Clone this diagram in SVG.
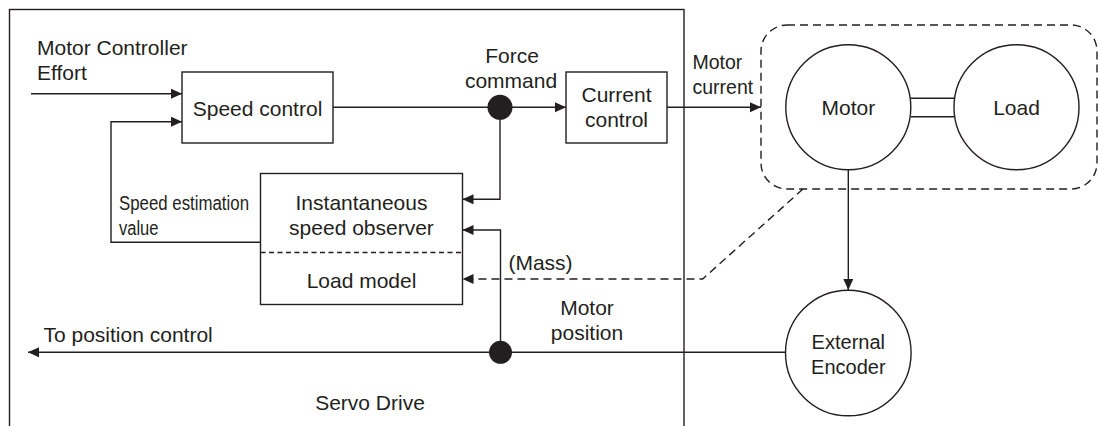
<svg xmlns="http://www.w3.org/2000/svg" width="1098" height="426" viewBox="0 0 1098 426">
<defs>
<style>
.ln{fill:none;stroke:#231f20;stroke-width:1.4}
.dash{fill:none;stroke:#231f20;stroke-width:1.4;stroke-dasharray:8 5}
.box{fill:#fff;stroke:#231f20;stroke-width:1.4}
.t{font-family:"Liberation Sans",Arial,Helvetica,sans-serif;font-size:21px;fill:#231f20}
.c{text-anchor:middle}
.s{font-size:19.5px}
.n{font-size:20px}
</style>
<marker id="ah" markerUnits="userSpaceOnUse" markerWidth="12" markerHeight="11" refX="11" refY="5" orient="auto">
<path d="M0,0 L11,5 L0,10 z" fill="#231f20"/>
</marker>
</defs>
<rect width="1098" height="426" fill="#fff"/>

<g id="servo-drive">
<rect x="9.5" y="9.5" width="674.5" height="440" class="ln"/>
<text class="t c" x="370" y="410">Servo Drive</text>
</g>

<g id="plant-group">
<rect x="761" y="25" width="336" height="164" rx="26" ry="26" class="dash" stroke-dasharray="9 6"/>
</g>

<g id="speed-control">
<rect x="182" y="72" width="151" height="71" class="box"/>
<text class="t c" x="257.5" y="115.5">Speed control</text>
</g>

<g id="current-control">
<rect x="566" y="72" width="101" height="71" class="box"/>
<text class="t c" x="616.5" y="102">Current</text>
<text class="t c" x="616.5" y="127">control</text>
</g>

<g id="observer">
<rect x="260.5" y="173.5" width="202" height="131" class="box"/>
<line x1="260.5" y1="252.5" x2="462.5" y2="252.5" class="ln" stroke-dasharray="5 3.5"/>
<text class="t c" x="361.5" y="210">Instantaneous</text>
<text class="t c" x="361.5" y="234.5">speed observer</text>
<text class="t c" x="361.5" y="288">Load model</text>
</g>

<g id="motor">
<circle cx="848.3" cy="107.2" r="62.5" class="box"/>
<text class="t c" x="848.3" y="114.5">Motor</text>
</g>

<g id="load">
<circle cx="1016.5" cy="107.2" r="62.5" class="box"/>
<text class="t c" x="1016.5" y="114.5">Load</text>
</g>

<g id="coupling">
<line x1="910.8" y1="98.3" x2="954" y2="98.3" class="ln"/>
<line x1="910.8" y1="116.7" x2="954" y2="116.7" class="ln"/>
</g>

<g id="encoder">
<circle cx="848.3" cy="353" r="62.8" class="box"/>
<text class="t c n" x="848.3" y="348.5">External</text>
<text class="t c n" x="848.3" y="373.5">Encoder</text>
</g>

<g id="connectors">
<path d="M31,93.7 H182" class="ln" marker-end="url(#ah)"/>
<path d="M260.5,242.3 H111 V121.7 H182" class="ln" marker-end="url(#ah)"/>
<path d="M333,107.3 H566" class="ln" marker-end="url(#ah)"/>
<path d="M500,107.3 V199.3 H462.5" class="ln" marker-end="url(#ah)"/>
<path d="M786,352.3 H28" class="ln" marker-end="url(#ah)"/>
<path d="M500.5,352.3 V230 H462.5" class="ln" marker-end="url(#ah)"/>
<path d="M803,189 L702.7,279 H462.5" class="dash" marker-end="url(#ah)"/>
<path d="M667,107.3 H761" class="ln" marker-end="url(#ah)"/>
<path d="M848.3,169.7 V290" class="ln" marker-end="url(#ah)"/>
<circle cx="500" cy="107.3" r="12.5" fill="#231f20"/>
<circle cx="500.5" cy="352.3" r="11.5" fill="#231f20"/>
</g>

<g id="labels">
<text class="t" x="37" y="55">Motor Controller</text>
<text class="t" x="37" y="80">Effort</text>
<text class="t c" x="512" y="63">Force</text>
<text class="t c" x="511" y="88">command</text>
<text class="t s" x="692.5" y="68.5">Motor</text>
<text class="t s" x="692.5" y="93.5">current</text>
<text class="t n" x="119" y="210" textLength="130" lengthAdjust="spacingAndGlyphs">Speed estimation</text>
<text class="t n" x="119" y="235" textLength="39.5" lengthAdjust="spacingAndGlyphs">value</text>
<text class="t c" x="540.5" y="270">(Mass)</text>
<text class="t c" x="587" y="315">Motor</text>
<text class="t c" x="587" y="340">position</text>
<text class="t" x="43.5" y="342">To position control</text>
</g>
</svg>
